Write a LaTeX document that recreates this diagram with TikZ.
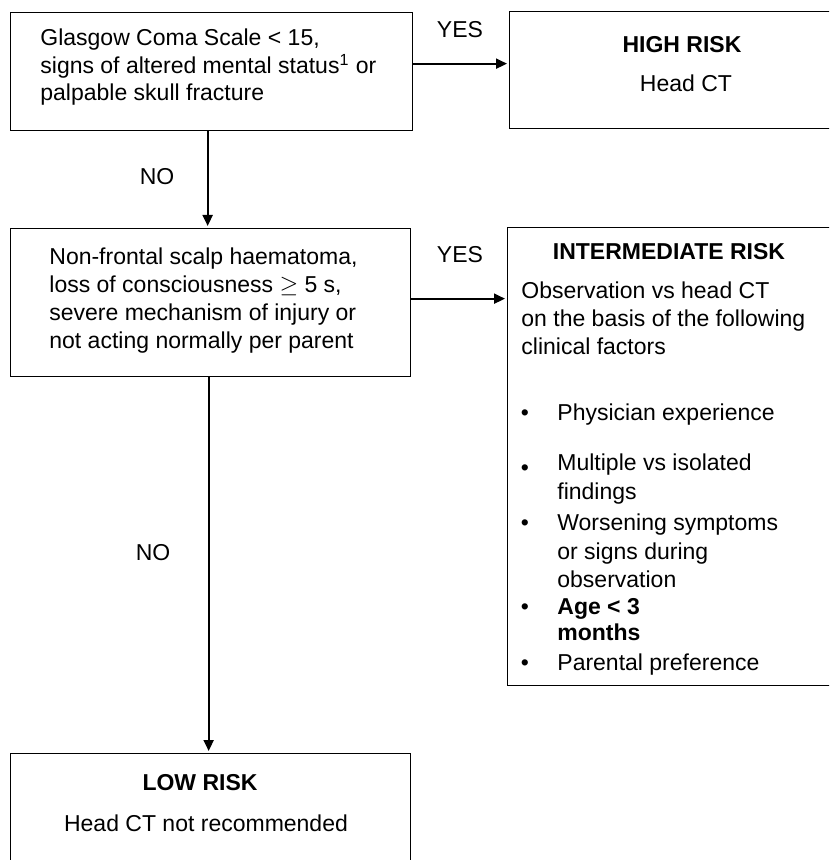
\documentclass[tikz,border=0pt]{standalone}
\usepackage{fontspec}
\setmainfont{Liberation Sans}
\usetikzlibrary{arrows.meta}

\begin{document}
\begin{tikzpicture}[x=0.5pt,y=-0.5pt,
		every node/.style={font=\fontsize{11.5pt}{14pt}\selectfont},
		box/.style={draw, line width=0.65pt, inner sep=0pt, anchor=north west},
		txt/.style={anchor=base west, inner sep=0pt},
		ctr/.style={anchor=base, inner sep=0pt},
		arr/.style={-{Triangle[length=5.5pt,width=5pt]}, line width=1pt, shorten >=1pt}]
			\path[use as bounding box] (0,0) rectangle (829,860);
			\clip (0,0) rectangle (829,860);
			\node[box, minimum width=201pt, minimum height=59pt] (box1) at (10,12) {};
			\node[box, minimum width=180.5pt, minimum height=58.5pt] (high) at (509,11) {};
			\node[box, minimum width=200pt, minimum height=74pt] (box2) at (10,228) {};
			\node[box, minimum width=181.5pt, minimum height=229pt] (inter) at (507,227) {};
			\node[box, minimum width=200pt, minimum height=75pt] (low) at (10,753) {};
			\node[txt] (q1a) at (40,46) {Glasgow Coma Scale < 15,};
			\node[txt] (q1b) at (40,74) {signs of altered mental status\textsuperscript{1} or};
			\node[txt] (q1c) at (40,101) {palpable skull fracture};
			\node[txt] (q2a) at (49,265) {Non-frontal scalp haematoma,};
			\node[txt] (q2b) at (49,293) {loss of consciousness $\geq$ 5 s,};
			\node[txt] (q2c) at (49,321) {severe mechanism of injury or};
			\node[txt] (q2d) at (49,349) {not acting normally per parent};
			\node[ctr] (yes1) at (460,38) {YES};
			\node[ctr] (yes2) at (460,263) {YES};
			\node[ctr] (no1) at (157,185) {NO};
			\node[ctr] (no2) at (153,560) {NO};
			\node[ctr, font=\fontsize{11.5pt}{14pt}\selectfont\bfseries] (hightitle) at (682,53) {HIGH RISK};
			\node[ctr] (hightext) at (686,92) {Head CT};
			\node[ctr, font=\fontsize{11.5pt}{14pt}\selectfont\bfseries] (intertitle) at (669,260) {INTERMEDIATE RISK};
			\node[txt] (obs1) at (521,299) {Observation vs head CT};
			\node[txt] (obs2) at (521,327) {on the basis of the following};
			\node[txt] (obs3) at (521,355) {clinical factors};
			\node[ctr] (dot1) at (525,420) {\textbullet};
			\node[ctr] (dot2) at (525,475) {\textbullet};
			\node[ctr] (dot3) at (525,530) {\textbullet};
			\node[ctr] (dot4) at (525,614) {\textbullet};
			\node[ctr] (dot5) at (525,670) {\textbullet};
			\node[txt] (f1) at (557,420) {Physician experience};
			\node[txt] (f2a) at (557,470) {Multiple vs isolated};
			\node[txt] (f2b) at (557,499) {findings};
			\node[txt] (f3a) at (557,530) {Worsening symptoms};
			\node[txt] (f3b) at (557,559) {or signs during};
			\node[txt] (f3c) at (557,587) {observation};
			\node[txt, font=\fontsize{11.5pt}{14pt}\selectfont\bfseries] (f4a) at (557,614) {Age < 3};
			\node[txt, font=\fontsize{11.5pt}{14pt}\selectfont\bfseries] (f4b) at (557,640) {months};
			\node[txt] (f5) at (557,670) {Parental preference};
			\node[ctr, font=\fontsize{11.5pt}{14pt}\selectfont\bfseries] (lowtitle) at (200,790) {LOW RISK};
			\node[ctr] (lowtext) at (206,831) {Head CT not recommended};
			\draw[arr] ([yshift=4pt]box1.east) -- ([yshift=4pt]box1.east -| high.west);
			\draw[arr] ([yshift=2pt]box2.east) -- ([yshift=2pt]box2.east -| inter.west);
			\draw[arr] ([xshift=-2pt]box1.south) -- ([xshift=-2pt]box1.south |- box2.north);
			\draw[arr] ([xshift=-1pt]box2.south) -- ([xshift=-1pt]box2.south |- low.north);
		\end{tikzpicture}
\end{document}
